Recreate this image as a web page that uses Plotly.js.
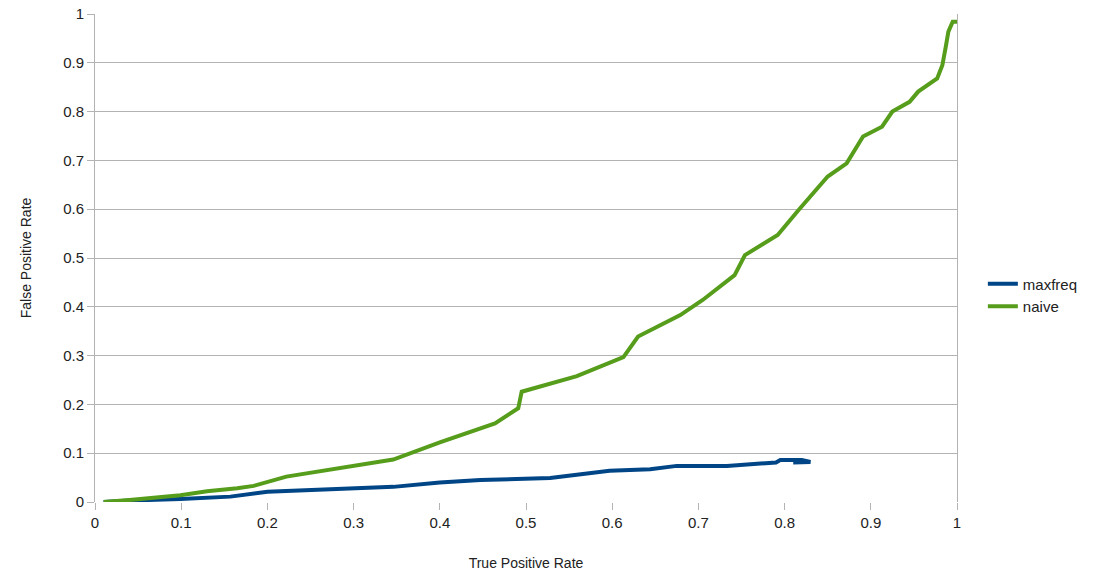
<!DOCTYPE html>
<html>
<head>
<meta charset="utf-8">
<script src="https://cdn.plot.ly/plotly-3.0.1.min.js"></script>
<style>html,body{margin:0;padding:0;background:#fff;}#chart{width:1110px;height:573px;}</style>
</head>
<body>
<div id="chart"></div>
<script>
const maxfreqX = [0.01, 0.04, 0.099, 0.157, 0.2, 0.26, 0.346, 0.4, 0.447, 0.528, 0.578, 0.597, 0.644, 0.675, 0.733, 0.79, 0.795, 0.82, 0.83, 0.81];
const maxfreqY = [0.0, 0.003, 0.006, 0.011, 0.021, 0.025, 0.031, 0.04, 0.045, 0.049, 0.059, 0.064, 0.067, 0.074, 0.074, 0.081, 0.086, 0.086, 0.082, 0.081];
const naiveX = [0.01, 0.04, 0.099, 0.13, 0.165, 0.184, 0.222, 0.3, 0.346, 0.4, 0.464, 0.491, 0.495, 0.559, 0.613, 0.63, 0.679, 0.705, 0.742, 0.754, 0.792, 0.816, 0.85, 0.872, 0.891, 0.913, 0.925, 0.945, 0.955, 0.977, 0.983, 0.987, 0.99, 0.995, 1.0];
const naiveY = [0.0, 0.004, 0.014, 0.022, 0.028, 0.033, 0.052, 0.074, 0.087, 0.122, 0.161, 0.192, 0.226, 0.258, 0.297, 0.339, 0.383, 0.414, 0.465, 0.506, 0.547, 0.598, 0.667, 0.694, 0.749, 0.769, 0.8, 0.82, 0.841, 0.868, 0.895, 0.933, 0.964, 0.984, 0.984];
const xTicks = [0, 0.1, 0.2, 0.3, 0.4, 0.5, 0.6, 0.7, 0.8, 0.9, 1];
const yTicks = [0, 0.1, 0.2, 0.3, 0.4, 0.5, 0.6, 0.7, 0.8, 0.9, 1];
const seriesNames = ['maxfreq', 'naive'];

const fam = 'Liberation Sans, Arial, sans-serif';
const traces = [
  {x: maxfreqX, y: maxfreqY, name: seriesNames[0], type: 'scatter', mode: 'lines',
   line: {color: '#004586', width: 4}},
  {x: naiveX, y: naiveY, name: seriesNames[1], type: 'scatter', mode: 'lines',
   line: {color: '#579d1c', width: 4}}
];
const layout = {
  width: 1110, height: 573,
  margin: {l: 95, r: 153, t: 14, b: 71},
  paper_bgcolor: '#fff', plot_bgcolor: '#fff',
  font: {family: fam, size: 15, color: '#222'},
  showlegend: true,
  legend: {x: 1.03, xanchor: 'left', y: 0.424, yanchor: 'middle', font: {family: fam, size: 15, color: '#222'}, tracegroupgap: 0},
  xaxis: {
    range: [0, 1], tickvals: xTicks, ticktext: xTicks.map(String),
    showgrid: false, zeroline: false, showline: false,
    ticks: 'outside', ticklen: 7, tickcolor: '#b3b3b3', tickwidth: 1,
    tickfont: {family: fam, size: 15, color: '#222'},
    title: {text: 'True Positive Rate', font: {family: fam, size: 14, color: '#222'}, standoff: 28}
  },
  yaxis: {
    range: [0, 1], tickvals: yTicks, ticktext: yTicks.map(String),
    showgrid: true, gridcolor: '#b3b3b3', gridwidth: 1, zeroline: false,
    showline: true, linecolor: '#b3b3b3', linewidth: 1, mirror: true,
    ticks: 'outside', ticklen: 7, tickcolor: '#b3b3b3', tickwidth: 1,
    tickfont: {family: fam, size: 15, color: '#222'},
    title: {text: 'False Positive Rate', font: {family: fam, size: 14, color: '#222'}, standoff: 28}
  }
};
Plotly.newPlot('chart', traces, layout, {displayModeBar: false, staticPlot: true});
</script>
</body>
</html>
